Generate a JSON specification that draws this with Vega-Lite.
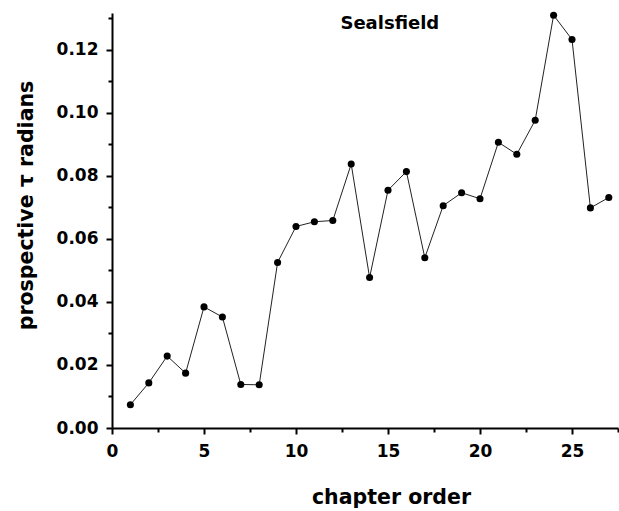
{
  "$schema": "https://vega.github.io/schema/vega-lite/v6.json",
  "width": 506,
  "height": 415,
  "autosize": {"type": "none"},
  "padding": {"left": 112, "top": 13, "right": 1, "bottom": 83},
  "background": "white",
  "config": {
    "view": {"stroke": null},
    "font": "DejaVu Sans",
    "axis": {
      "domainColor": "black",
      "domainWidth": 2,
      "tickColor": "black",
      "tickWidth": 2,
      "grid": false,
      "labelFont": "DejaVu Sans",
      "labelFontWeight": "bold",
      "labelFontSize": 17,
      "labelColor": "black",
      "titleFont": "DejaVu Sans",
      "titleFontWeight": "bold",
      "titleFontSize": 20.5,
      "titleColor": "black"
    }
  },
  "data": {
    "values": [
      {"chapter": 1, "tau": 0.0074},
      {"chapter": 2, "tau": 0.0143},
      {"chapter": 3, "tau": 0.0228},
      {"chapter": 4, "tau": 0.0174},
      {"chapter": 5, "tau": 0.0384},
      {"chapter": 6, "tau": 0.0352},
      {"chapter": 7, "tau": 0.0138},
      {"chapter": 8, "tau": 0.0137},
      {"chapter": 9, "tau": 0.0525},
      {"chapter": 10, "tau": 0.0639},
      {"chapter": 11, "tau": 0.0654},
      {"chapter": 12, "tau": 0.0658},
      {"chapter": 13, "tau": 0.0837},
      {"chapter": 14, "tau": 0.0477},
      {"chapter": 15, "tau": 0.0754},
      {"chapter": 16, "tau": 0.0813},
      {"chapter": 17, "tau": 0.054},
      {"chapter": 18, "tau": 0.0705},
      {"chapter": 19, "tau": 0.0746},
      {"chapter": 20, "tau": 0.0727},
      {"chapter": 21, "tau": 0.0906},
      {"chapter": 22, "tau": 0.0868},
      {"chapter": 23, "tau": 0.0976},
      {"chapter": 24, "tau": 0.1309},
      {"chapter": 25, "tau": 0.1232},
      {"chapter": 26, "tau": 0.0698},
      {"chapter": 27, "tau": 0.0731}
    ]
  },
  "encoding": {
    "x": {
      "field": "chapter",
      "type": "quantitative",
      "scale": {"domain": [0, 27.5], "nice": false, "zero": false},
      "axis": {
        "title": "chapter order",
        "values": [0, 2.5, 5, 7.5, 10, 12.5, 15, 17.5, 20, 22.5, 25, 27.5],
        "labelExpr": "datum.value % 5 === 0 ? format(datum.value, 'd') : ''",
        "tickSize": {"condition": {"test": "datum.value % 5 === 0", "value": 6}, "value": 4},
        "labelPadding": 9,
        "labelFlush": false,
        "titlePadding": 28,
        "titleX": 279
      }
    },
    "y": {
      "field": "tau",
      "type": "quantitative",
      "scale": {"domain": [0, 0.1316], "nice": false},
      "axis": {
        "title": "prospective τ radians",
        "values": [0, 0.01, 0.02, 0.03, 0.04, 0.05, 0.06, 0.07, 0.08, 0.09, 0.1, 0.11, 0.12, 0.13],
        "labelExpr": "round(datum.value * 100) % 2 === 0 ? format(datum.value, '.2f') : ''",
        "tickSize": {"condition": {"test": "round(datum.value * 100) % 2 === 0", "value": 6}, "value": 4},
        "labelPadding": 8,
        "labelFlush": false,
        "titlePadding": 20,
        "titleY": 192
      }
    }
  },
  "layer": [
    {"mark": {"type": "line", "color": "#222222", "strokeWidth": 1}},
    {"mark": {"type": "point", "filled": true, "color": "black", "opacity": 1, "size": 50}},
    {
      "data": {"values": [{"label": "Sealsfield", "cx": 15.1, "cy": 0.128}]},
      "mark": {"type": "text", "font": "DejaVu Sans", "fontWeight": "bold", "fontSize": 18, "color": "black", "align": "center", "baseline": "middle"},
      "encoding": {
        "x": {"field": "cx", "type": "quantitative"},
        "y": {"field": "cy", "type": "quantitative"},
        "text": {"field": "label"}
      }
    }
  ]
}
